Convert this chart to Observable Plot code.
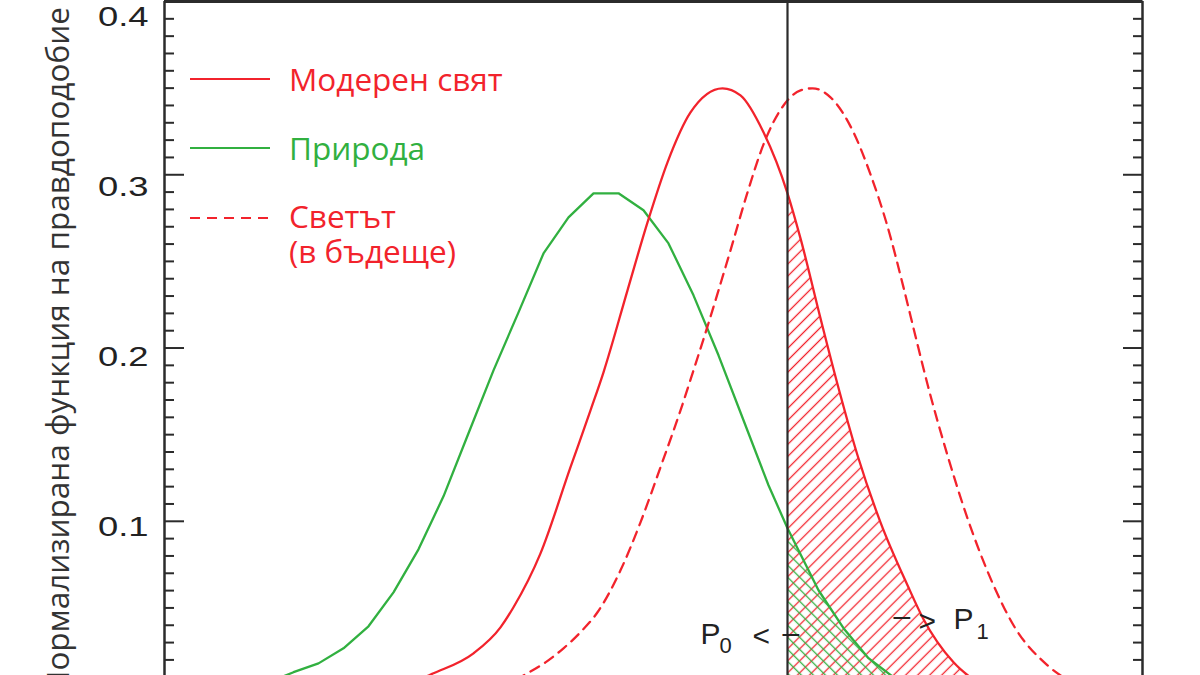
<!DOCTYPE html>
<html><head><meta charset="utf-8">
<script src="https://cdn.jsdelivr.net/npm/d3@7"></script>
<script src="https://cdn.jsdelivr.net/npm/@observablehq/plot@0.6"></script>
<style>
html,body{margin:0;padding:0;background:#fff;overflow:hidden;}
#wrap{position:relative;width:1200px;height:675px;}
#legend{position:absolute;left:0;top:0;pointer-events:none;}
</style></head><body><div id="wrap"></div>
<script>
// ---- data ----
const xDomain = [0, 9.78];
const yDomain = [0.011, 0.4];
const thresholdX = [6.23];

const natureX = [1.04,1.29,1.54,1.79,2.04,2.29,2.54,2.79,3.04,3.29,3.54,3.79,4.04,4.29,4.54,4.79,5.04,5.29,5.54,5.79,6.04,6.23,6.29,6.54,6.79,7.04,7.29,7.54];
const natureY = [0.007,0.0129,0.018,0.0267,0.0394,0.059,0.0838,0.1144,0.1508,0.1871,0.2206,0.2546,0.2754,0.2893,0.2893,0.2795,0.2604,0.2304,0.1958,0.1583,0.1208,0.096,0.089,0.0602,0.0383,0.021,0.010,0.0025];

const modernX = [2.16,2.46,2.69,3.09,3.36,3.49,3.76,4.06,4.26,4.39,4.63,4.83,5.03,5.26,5.58,5.76,5.99,6.23,6.36,6.56,6.73,6.93,7.16,7.43,7.59,7.89,8.16];
const modernY = [0.003,0.0068,0.0123,0.0238,0.0388,0.0504,0.0815,0.1312,0.164,0.186,0.2333,0.2725,0.3072,0.336,0.3499,0.3458,0.3245,0.2893,0.2633,0.2171,0.1791,0.1381,0.0994,0.0631,0.0435,0.0186,0.0058];

const futureX = [3.36,3.63,3.81,3.99,4.16,4.33,4.56,4.76,4.96,5.16,5.29,5.43,5.66,5.83,5.99,6.19,6.36,6.48,6.66,6.89,7.06,7.23,7.39,7.51,7.63,7.83,8.03,8.29,8.49,8.83,9.11];
const futureY = [0.004,0.0123,0.0186,0.0267,0.036,0.0475,0.0717,0.0994,0.1312,0.164,0.1871,0.2125,0.2564,0.2898,0.3175,0.34,0.3487,0.3499,0.3447,0.3245,0.3002,0.2702,0.235,0.2068,0.1791,0.1381,0.1017,0.0631,0.04,0.0169,0.0059];

const majorTicks = [0.1, 0.2, 0.3, 0.4];
const minorTicks = [0.02,0.03,0.04,0.05,0.06,0.07,0.08,0.09,0.11,0.12,0.13,0.14,0.15,0.16,0.17,0.18,0.19,0.21,0.22,0.23,0.24,0.25,0.26,0.27,0.28,0.29,0.31,0.32,0.33,0.34,0.35,0.36,0.37,0.38,0.39];
const yLabel = "Нормализирана функция на правдоподобие";
const legendLabels = [["Модерен свят"], ["Природа"], ["Светът", "(в бъдеще)"]];

// ---- styles ----
const RED = "#f2232c", GREEN = "#31b040", INK = "#2b2b2b";
const labelDy = [6, 9, 12, 16];

const rows = (xs, ys) => xs.map((x, i) => ({x, y: ys[i]}));
const nature = rows(natureX, natureY);
const modern = rows(modernX, modernY);
const future = rows(futureX, futureY);
const thr = thresholdX[0];

const tickAxes = [];
for (const anchor of ["left", "right"]) {
  tickAxes.push(Plot.axisY(minorTicks, {anchor, tickSize: -10, tickFormat: () => "", label: null, stroke: INK, strokeWidth: 2}));
  tickAxes.push(Plot.axisY(majorTicks, {anchor, tickSize: -20, tickFormat: () => "", label: null, stroke: INK, strokeWidth: 2}));
}
const labelAxes = majorTicks.map((t, i) => Plot.axisY([t], {
  anchor: "left", tickSize: 0, tickPadding: 16, fontSize: 28, fontFamily: "Liberation Sans, Arial, sans-serif",
  fill: "#222", dy: labelDy[i], tickFormat: d => d.toFixed(1), label: null
}));

const txt = (s, o) => Plot.text(thresholdX, {x: d => d, text: () => s, frameAnchor: "bottom", textAnchor: "start", lineAnchor: "bottom",
  fontFamily: "Liberation Sans, Arial, sans-serif", fill: "#222", fontSize: 30, ...o});

const svg = Plot.plot({
  width: 1200, height: 675, marginLeft: 164, marginRight: 58, marginTop: 1, marginBottom: 0,
  x: {domain: xDomain, axis: null},
  y: {domain: yDomain, axis: null},
  marks: [
    Plot.areaY(modern.filter(d => d.x >= thr), {x: "x", y: "y", fill: "url(#hatchRed)", curve: "monotone-x", clip: true}),
    Plot.areaY(nature.filter(d => d.x >= thr), {x: "x", y: "y", fill: "url(#hatchGreen)", clip: true}),
    Plot.line(nature, {x: "x", y: "y", stroke: GREEN, strokeWidth: 2.3, clip: true}),
    Plot.line(modern, {x: "x", y: "y", stroke: RED, strokeWidth: 2.3, curve: "monotone-x", clip: true}),
    Plot.line(future, {x: "x", y: "y", stroke: RED, strokeWidth: 2.3, curve: "monotone-x", strokeDasharray: "10,7", clip: true}),
    Plot.ruleX(thresholdX, {stroke: INK, strokeWidth: 2.2}),
    Plot.ruleX(xDomain, {stroke: INK, strokeWidth: 2.5}),
    Plot.ruleY([yDomain[1]], {stroke: INK, strokeWidth: 3}),
    ...tickAxes,
    ...labelAxes,
    Plot.text([yLabel], {frameAnchor: "left", rotate: -90, dx: -106, dy: 12, fontSize: 31.5, fontFamily: "Open Sans, sans-serif",
      fill: "#333", textAnchor: "middle", lineAnchor: "middle"}),
    txt("P", {dx: -87, dy: -32}),
    txt("0", {dx: -68, dy: -23, fontSize: 22}),
    txt("<", {dx: -35, dy: -30}),
    txt("–", {dx: -5, dy: -33}),
    txt("–", {dx: 106, dy: -50}),
    txt(">", {dx: 131, dy: -45}),
    txt("P", {dx: 166, dy: -47}),
    txt("1", {dx: 189, dy: -37, fontSize: 22})
  ]
});

// hatch patterns
const defs = d3.select(svg).insert("defs", ":first-child");
[["hatchRed", RED, 45], ["hatchGreen", GREEN, -45]].forEach(([id, c, a]) => {
  const p = defs.append("pattern").attr("id", id).attr("patternUnits", "userSpaceOnUse")
    .attr("width", 8.5).attr("height", 8.5).attr("patternTransform", `rotate(${a})`);
  p.append("line").attr("x1", 4.25).attr("y1", -1).attr("x2", 4.25).attr("y2", 9.5)
    .attr("stroke", c).attr("stroke-width", 1.3);
});

// stretch tick labels horizontally like the original
d3.select(svg).selectAll('g[aria-label="y-axis tick label"] text').each(function() {
  const t = this.getAttribute("transform");
  if (t) this.setAttribute("transform", t + " scale(1.3,1)");
});

document.getElementById("wrap").appendChild(svg);

// legend overlay
const lg = d3.select("#wrap").append("svg").attr("id", "legend").attr("width", 1200).attr("height", 675);
const legendColors = [RED, GREEN, RED];
const legendDash = [null, null, "10,7"];
const legendLineY = [79, 148, 218];
const legendBase = [91, 160, 228];
legendLabels.forEach((lines, i) => {
  lg.append("line").attr("x1", 190).attr("x2", 270).attr("y1", legendLineY[i]).attr("y2", legendLineY[i])
    .attr("stroke", legendColors[i]).attr("stroke-width", 2.2).attr("stroke-dasharray", legendDash[i]);
  const t = lg.append("text").attr("x", 289).attr("y", legendBase[i]).attr("fill", legendColors[i])
    .attr("font-family", "Open Sans, sans-serif").attr("font-size", 31.5);
  lines.forEach((s, j) => {
    t.append("tspan").attr("x", 289).attr("dy", j === 0 ? 0 : 35).text(s);
  });
});
</script></body></html>
